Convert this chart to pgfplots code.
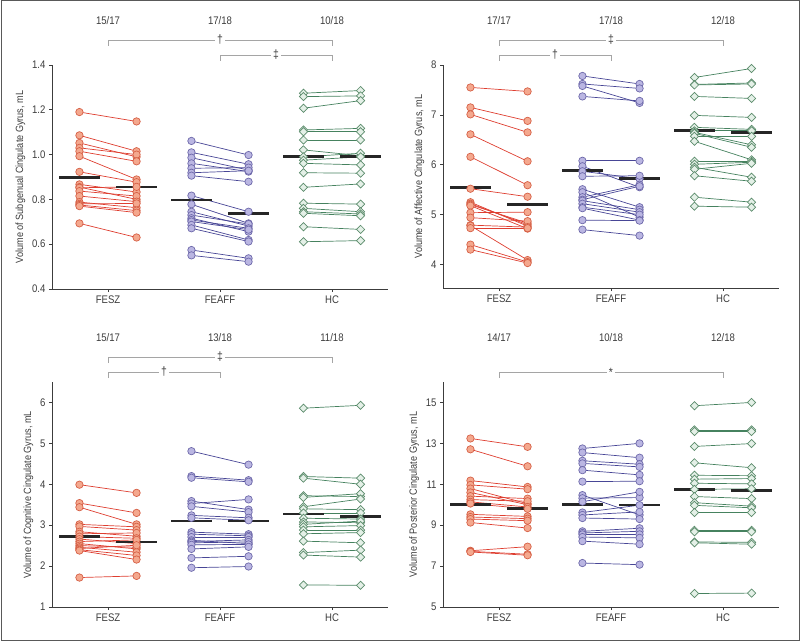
\documentclass[border=0pt]{standalone}
\usepackage{fontspec}
\setmainfont{Liberation Sans}[FakeStretch=0.87]
\usepackage{pgfplots}
\pgfplotsset{compat=1.18}
\usepackage{pgfplotstable}

\definecolor{axgray}{RGB}{60,60,60}
\definecolor{brkgray}{RGB}{165,165,165}
\definecolor{fesline}{RGB}{222,62,48}
\definecolor{fesedge}{RGB}{214,96,70}
\definecolor{fesfill}{RGB}{244,168,142}
\definecolor{affline}{RGB}{72,70,150}
\definecolor{affedge}{RGB}{110,105,170}
\definecolor{afffill}{RGB}{186,182,226}
\definecolor{hcline}{RGB}{70,130,95}
\definecolor{hcedge}{RGB}{92,140,108}
\definecolor{hcfill}{RGB}{228,240,231}

\newcommand{\lbl}{\fontsize{11}{13}\selectfont}
\newcommand{\ylbl}{\fontsize{10.5}{12}\selectfont}
\newcommand{\sym}{\fontsize{12}{14}\selectfont}

% panel 1: subgenual
\pgfplotstableread{
a b
1.190 1.148
1.086 1.015
1.052 0.990
1.030 1.000
1.015 0.970
0.993 0.889
0.923 0.877
0.867 0.833
0.855 0.800
0.852 0.856
0.837 0.815
0.815 0.790
0.788 0.763
0.780 0.782
0.775 0.750
0.770 0.741
0.693 0.630
}\sgFESZ
\pgfplotstableread{
a b
1.061 0.998
1.010 0.957
0.986 0.931
0.961 0.924
0.939 0.942
0.919 0.928
0.906 0.879
0.817 0.745
0.778 0.693
0.745 0.681
0.730 0.690
0.716 0.656
0.708 0.671
0.701 0.665
0.686 0.619
0.671 0.612
0.574 0.537
0.550 0.522
}\sgFEAFF
\pgfplotstableread{
a b
1.274 1.286
1.259 1.262
1.207 1.241
1.110 1.117
1.102 1.102
1.065 1.065
1.021 0.995
0.990 1.006
0.975 0.990
0.961 0.954
0.919 0.917
0.854 0.869
0.783 0.779
0.760 0.745
0.745 0.735
0.738 0.727
0.678 0.666
0.611 0.616
}\sgHC

% panel 2: affective
\pgfplotstableread{
a b
7.55 7.47
7.15 6.88
7.01 6.65
6.61 6.07
6.16 5.59
5.52 5.36
5.25 4.77
5.22 4.80
5.20 4.83
5.18 4.72
5.04 5.05
4.94 4.87
4.79 4.75
4.78 4.09
4.73 4.73
4.40 4.05
4.30 4.03
}\afFESZ
\pgfplotstableread{
a b
7.78 7.62
7.62 7.53
7.58 7.24
7.37 7.28
6.08 6.08
5.97 5.55
5.87 5.72
5.77 5.78
5.51 5.15
5.45 4.95
5.35 5.60
5.30 5.57
5.28 5.10
5.22 5.05
5.15 5.00
5.13 4.89
4.89 4.88
4.70 4.58
}\afFEAFF
\pgfplotstableread{
a b
7.75 7.93
7.61 7.64
7.60 7.62
7.37 7.33
6.99 6.95
6.75 6.71
6.68 6.68
6.65 6.40
6.63 6.35
6.57 6.57
6.47 6.10
6.07 6.07
6.01 6.05
5.95 5.75
5.91 6.03
5.78 5.67
5.35 5.25
5.17 5.15
}\afHC

% panel 3: cognitive
\pgfplotstableread{
a b
3.99 3.79
3.54 3.30
3.44 3.02
3.02 2.96
2.97 2.88
2.84 2.73
2.79 2.81
2.72 2.68
2.66 2.55
2.60 2.64
2.55 2.42
2.50 2.46
2.46 2.34
2.43 2.51
2.40 2.26
2.38 2.16
1.72 1.76
}\cgFESZ
\pgfplotstableread{
a b
4.81 4.48
4.20 4.10
4.16 4.06
3.59 3.38
3.53 3.63
3.46 3.32
3.24 3.18
3.18 3.12
2.83 2.78
2.78 2.74
2.71 2.71
2.63 2.55
2.60 2.64
2.57 2.59
2.52 2.53
2.42 2.47
2.20 2.24
1.96 1.99
}\cgFEAFF
\pgfplotstableread{
a b
5.86 5.93
4.19 4.15
4.15 4.00
3.72 3.70
3.68 3.77
3.45 3.64
3.40 3.38
3.30 3.30
3.17 3.15
3.08 3.06
3.02 3.10
2.96 2.99
2.88 2.88
2.79 2.82
2.61 2.57
2.33 2.39
2.27 2.22
1.54 1.53
}\cgHC

% panel 4: posterior
\pgfplotstableread{
a b
13.24 12.83
12.71 11.88
11.18 10.87
10.97 10.76
10.79 10.05
10.60 10.00
10.42 10.30
10.25 10.17
10.14 9.89
10.06 9.80
9.53 9.43
9.40 9.32
9.30 9.22
9.13 8.86
7.75 7.95
7.72 7.58
7.69 7.53
}\pcFESZ
\pgfplotstableread{
a b
12.75 13.00
12.55 12.30
12.15 11.98
12.02 11.85
11.69 11.46
11.13 11.15
10.47 9.50
10.32 10.35
10.15 10.63
9.62 9.98
9.50 9.65
9.35 9.30
8.70 8.85
8.62 8.70
8.55 8.55
8.42 8.38
8.22 8.07
7.15 7.07
}\pcFEAFF
\pgfplotstableread{
a b
14.84 15.00
13.66 13.66
13.58 13.58
12.85 12.99
12.05 11.81
11.44 11.42
11.25 11.28
11.05 11.02
10.75 10.78
10.40 10.30
10.10 9.93
9.97 9.85
9.62 9.62
8.75 8.75
8.68 8.68
8.18 8.16
8.14 8.07
5.66 5.68
}\pcHC

\pgfplotsset{
  panel/.style={
    scale only axis, width=336pt, height=224pt,
    xmin=0.5, xmax=3.5,
    axis x line*=bottom, axis y line*=left,
    axis line style={axgray, line width=0.7pt},
    xtick={1,2,3}, xticklabels={FESZ,FEAFF,HC},
    tick align=outside, major tick length=3pt,
    tick style={axgray, line width=0.7pt},
    ticklabel style={font=\lbl, text=axgray},
    ylabel style={font=\ylbl, text=axgray},
    /pgf/number format/assume math mode=true,
    clip=false,
  },
  fesm/.style={only marks, mark=*, mark size=3.7pt,
    mark options={draw=fesedge, fill=fesfill, line width=0.7pt}},
  affm/.style={only marks, mark=*, mark size=3.7pt,
    mark options={draw=affedge, fill=afffill, line width=0.7pt}},
  hcm/.style={only marks, mark=square*, mark size=2.9pt,
    mark options={rotate=45, draw=hcedge, fill=hcfill, line width=0.7pt}},
}

% paired lines plus the two columns of marks
\newcommand{\grp}[4]{%
  \addplot[quiver={u=0.51, v=\thisrow{b}-\thisrow{a}}, draw=#3, line width=0.7pt, no markers]
    table[x expr=#2-0.255, y=a] {#1};
  \addplot[#4] table[x expr=#2-0.255, y=a] {#1};
  \addplot[#4] table[x expr=#2+0.255, y=b] {#1};
}
% group means, pre and post, for the three groups
\newcommand{\means}[6]{%
  \addplot[black!85, line width=2.7pt, no markers] coordinates {(0.565,#1) (0.925,#1)};
  \addplot[black!85, line width=2.7pt, no markers] coordinates {(1.075,#2) (1.435,#2)};
  \addplot[black!85, line width=2.7pt, no markers] coordinates {(1.565,#3) (1.925,#3)};
  \addplot[black!85, line width=2.7pt, no markers] coordinates {(2.075,#4) (2.435,#4)};
  \addplot[black!85, line width=2.7pt, no markers] coordinates {(2.565,#5) (2.925,#5)};
  \addplot[black!85, line width=2.7pt, no markers] coordinates {(3.075,#6) (3.435,#6)};
}
% bracket: x1, x2, xmid, ymax, shift above top, symbol
\newcommand{\brk}[6]{%
  \draw[brkgray, line width=0.7pt]
    ([yshift=#5pt-6pt]axis cs:#1,#4) -- ([yshift=#5pt]axis cs:#1,#4)
    -- ([yshift=#5pt]axis cs:#2,#4) -- ([yshift=#5pt-6pt]axis cs:#2,#4);
  \node[fill=white, inner sep=2pt, font=\sym, text=axgray] at ([yshift=#5pt]axis cs:#3,#4) {#6};
}
\newcommand{\counts}[4]{%
  \node[font=\lbl, text=axgray] at ([yshift=44pt]axis cs:1,#1) {#2};
  \node[font=\lbl, text=axgray] at ([yshift=44pt]axis cs:2,#1) {#3};
  \node[font=\lbl, text=axgray] at ([yshift=44pt]axis cs:3,#1) {#4};
}

\begin{document}
\begin{tikzpicture}
\path[use as bounding box] (0,0) rectangle (800pt,641pt);
\draw[gray!70!black, line width=1pt] (1pt,1pt) rectangle (799pt,640pt);

\begin{axis}[panel, at={(52pt,352pt)}, anchor=south west,
  ymin=0.4, ymax=1.4, ytick={0.4,0.6,...,1.4},
  yticklabel style={/pgf/number format/.cd, fixed, fixed zerofill, precision=1},
  ylabel={Volume of Subgenual Cingulate Gyrus, mL}]
\grp{\sgFESZ}{1}{fesline}{fesm}
\grp{\sgFEAFF}{2}{affline}{affm}
\grp{\sgHC}{3}{hcline}{hcm}
\means{0.897}{0.856}{0.797}{0.737}{0.992}{0.992}
\brk{1}{3}{2}{1.4}{25}{†}
\brk{2}{3}{2.5}{1.4}{10}{‡}
\counts{1.4}{15/17}{17/18}{10/18}
\end{axis}

\begin{axis}[panel, at={(443pt,353pt)}, anchor=south west, height=223pt,
  ymin=3.53, ymax=8, ytick={4,5,6,7,8},
  ylabel={Volume of Affective Cingulate Gyrus, mL}]
\grp{\afFESZ}{1}{fesline}{fesm}
\grp{\afFEAFF}{2}{affline}{affm}
\grp{\afHC}{3}{hcline}{hcm}
\means{5.55}{5.20}{5.88}{5.72}{6.69}{6.65}
\brk{1}{3}{2}{8}{25}{‡}
\brk{1}{2}{1.5}{8}{10}{†}
\counts{8}{17/17}{17/18}{12/18}
\end{axis}

\begin{axis}[panel, at={(52pt,34pt)}, anchor=south west, height=225pt,
  ymin=1, ymax=6.5, ytick={1,2,3,4,5,6},
  ylabel={Volume of Cognitive Cingulate Gyrus, mL}]
\grp{\cgFESZ}{1}{fesline}{fesm}
\grp{\cgFEAFF}{2}{affline}{affm}
\grp{\cgHC}{3}{hcline}{hcm}
\means{2.72}{2.59}{3.10}{3.10}{3.27}{3.21}
\brk{1}{3}{2}{6.5}{25}{‡}
\brk{1}{2}{1.5}{6.5}{10}{†}
\counts{6.5}{15/17}{13/18}{11/18}
\end{axis}

\begin{axis}[panel, at={(443pt,34pt)}, anchor=south west, height=225pt,
  ymin=5, ymax=16, ytick={5,7,9,11,13,15},
  ylabel={Volume of Posterior Cingulate Gyrus, mL}]
\grp{\pcFESZ}{1}{fesline}{fesm}
\grp{\pcFEAFF}{2}{affline}{affm}
\grp{\pcHC}{3}{hcline}{hcm}
\means{10.02}{9.81}{10.02}{9.98}{10.74}{10.68}
\brk{1}{3}{2}{16}{10}{*}
\counts{16}{14/17}{10/18}{12/18}
\end{axis}
\end{tikzpicture}
\end{document}
